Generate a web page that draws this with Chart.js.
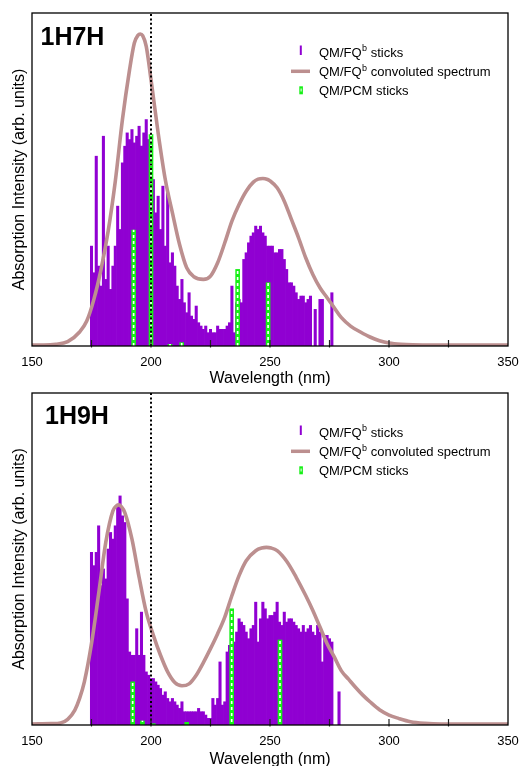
<!DOCTYPE html>
<html>
<head>
<meta charset="utf-8">
<script src="https://cdn.jsdelivr.net/npm/chart.js@4.4.0/dist/chart.umd.min.js"></script>
<style>
  html, body { margin: 0; padding: 0; background: #fff; }
  canvas { display: block; }
</style>
</head>
<body>
<canvas id="c1" width="520" height="388"></canvas>
<canvas id="c2" width="520" height="378"></canvas>
<script>
// ---- 1H7H ----
// QM/FQ sticks (nm / intensity, % of axis height)
const stickNm7 = [175, 176, 177, 178, 179, 180, 181, 182, 183, 184,
  185, 186, 187, 188, 189, 190, 191, 192, 193, 194,
  195, 196, 197, 198, 199, 200, 201, 202, 203, 204,
  205, 206, 207, 208, 209, 210, 211, 212, 213, 214,
  215, 216, 217, 218, 219, 220, 221, 222, 223, 224,
  225, 226, 227, 228, 229, 230, 231, 232, 233, 234,
  235, 236, 237, 238, 239, 240, 241, 242, 243, 244,
  245, 246, 247, 248, 249, 250, 251, 252, 253, 254,
  255, 256, 257, 258, 259, 260, 261, 262, 263, 264,
  265, 266, 267, 269, 271, 272, 276]
const stickInt7 = [30, 22, 57, 24, 18, 63, 20, 30, 17, 24,
  30, 42, 35, 55, 60, 64, 62, 65, 61, 63,
  66, 60, 64, 68, 62, 63, 50, 40, 45, 35,
  48, 30, 46, 25, 28, 24, 18, 14, 20, 13,
  10, 16, 9, 8, 12, 7, 6, 5, 6, 4,
  5, 4, 4, 6, 5, 5, 5, 6, 7, 18,
  4, 13, 14, 13, 26, 28, 31, 33, 34, 36,
  35, 36, 34, 33, 30, 30, 30, 28, 28, 29,
  29, 26, 23, 19, 19, 18, 16, 14, 15, 15,
  13, 14, 15, 11, 14, 14, 16]
// QM/PCM sticks
const pcmNm7 = [192.7, 200, 208, 212.9, 236.4, 249.2]
const pcmInt7 = [34.8, 63.5, 0.5, 1, 23, 19]
// convoluted spectrum
const specNm7 = [150, 155, 160, 165, 170, 173, 176, 179, 182, 185,
  188, 191, 193, 194.5, 195.5, 196.5, 198, 200, 203, 206, 209, 212,
  215, 218, 222, 225, 228, 231, 234, 237, 240, 243,
  245, 247, 249, 250, 253, 256, 259, 262, 265, 268, 271, 274,
  277, 280, 284, 288, 292, 296, 300, 305, 310, 320,
  335, 350]
const specInt7 = [0.3, 0.3, 0.5, 1.3, 4.2, 7.5, 14, 23, 34.5, 49.5,
  68, 83, 91, 93.3, 93.7, 93.2, 90, 80, 64, 50, 40, 30.5,
  23.5, 20.8, 20, 21, 25, 31, 37.5, 42.5, 46.5, 49.2,
  50.1, 50.3, 50, 49.6, 47.5, 43.5, 38, 32.5, 26.5, 21.5, 17.5, 14.5,
  11.5, 8.5, 5.9, 4.2, 2.7, 1.6, 0.9, 0.5, 0.35, 0.3,
  0.3, 0.3]

// ---- 1H9H ----
const stickNm9 = [175, 176, 177, 178, 179, 180, 181, 182, 183, 184,
  185, 186, 187, 188, 189, 190, 191, 192, 193, 194,
  195, 196, 197, 198, 199, 200, 201, 202, 203, 204,
  205, 206, 207, 208, 209, 210, 211, 212, 213, 214,
  215, 216, 217, 218, 219, 220, 221, 222, 223, 224,
  225, 226, 227, 228, 229, 230, 231, 232, 233, 234,
  235, 236, 237, 238, 239, 240, 241, 242, 243, 244,
  245, 246, 247, 248, 249, 250, 251, 252, 253, 254,
  255, 256, 257, 258, 259, 260, 261, 262, 263, 264,
  265, 266, 267, 268, 269, 270, 271, 272, 273, 274,
  275, 276, 279]
const stickInt9 = [52, 48, 52, 60, 42, 47, 44, 53, 58, 56,
  60, 66, 69, 63, 61, 38, 22, 21, 21, 29,
  21, 34, 21, 16, 15, 14, 14, 13, 12, 11,
  9, 10, 8, 7, 8, 7, 6, 5, 7, 4,
  4, 4, 4, 4, 4, 5, 4, 4, 3, 2,
  2, 8, 6, 8, 19, 6, 7, 22, 24, 26,
  25, 28, 32, 31, 30, 28, 26, 29, 30, 37,
  25, 32, 37, 35, 32, 33, 33, 34, 37, 31,
  30, 34, 31, 32, 32, 31, 30, 29, 28, 30,
  28, 29, 30, 28, 27, 30, 28, 19, 27, 27,
  26, 25, 10]
const pcmNm9 = [192.3, 196.4, 201, 215, 233.9, 254.2]
const pcmInt9 = [13, 1.2, 0.4, 0.8, 35, 25.6]
const specNm9 = [150, 158, 162, 165, 168, 170, 172, 175, 178, 181,
  184, 185.5, 186.5, 187.5, 189, 192, 195, 198, 201, 204, 207, 210,
  213, 216, 219, 222, 225, 228, 231, 234, 237, 240,
  244, 246.5, 248.5, 250.5, 253, 257, 261, 265, 268, 271, 274, 277,
  280, 283, 286, 289, 292, 296, 300, 304, 309, 315,
  322, 335, 350]
const specInt9 = [0.3, 0.4, 0.6, 1.7, 4.5, 8, 13, 24.5, 39.5, 55,
  64.5, 66, 66.3, 65.8, 64, 56, 44.5, 34, 27, 21, 16, 12.8,
  11.8, 12.4, 15, 18.8, 23, 27.5, 32.5, 39, 45, 49.5,
  52.5, 53.3, 53.5, 53.3, 52.5, 49.3, 44.5, 39, 34.5, 29.5, 24.5, 20.5,
  16.3, 13.8, 11.3, 9, 7, 4.6, 3, 2, 1, 0.5,
  0.3, 0.3, 0.3]

const xMin = 150
const xMax = 350
const tickMarks = [175, 200, 225, 250, 275, 300, 325]
const refLine = 200
const legendMain = ['QM/FQ', 'QM/FQ', 'QM/PCM sticks']
const legendSup = ['b', 'b', '']
const legendTail = [' sticks', ' convoluted spectrum', '']

const FONT = '"Liberation Sans", Arial, Helvetica, sans-serif'
const PURPLE = '#9000d2'
const ROSE = '#bc8f8f'
const GREEN = '#16f016'

Chart.defaults.font.family = FONT
Chart.defaults.color = '#000'

function pts(xs, ys) {
  return xs.map((v, i) => ({ x: v, y: ys[i] }))
}

// white dashes for the hatched QM/PCM bars
function dashPattern() {
  const c = document.createElement('canvas')
  c.width = 1
  c.height = 6
  const g = c.getContext('2d')
  g.fillStyle = '#fff'
  g.fillRect(0, 1, 1, 3)
  return g.createPattern(c, 'repeat')
}

// frame, inner ticks, panel name and legend
const panelDecor = {
  id: 'panelDecor',
  afterDraw(chart, args, o) {
    const { ctx, chartArea: a } = chart
    const x = chart.scales.x
    ctx.save()
    ctx.strokeStyle = '#222'
    ctx.lineWidth = 1.2
    for (const t of tickMarks) {
      const px = x.getPixelForValue(t)
      ctx.beginPath()
      ctx.moveTo(px, a.bottom + 1.5)
      ctx.lineTo(px, a.bottom - 6)
      ctx.stroke()
    }
    ctx.strokeStyle = '#000'
    ctx.lineWidth = 1.3
    ctx.strokeRect(a.left, a.top, a.right - a.left, a.bottom - a.top)

    ctx.fillStyle = '#000'
    ctx.textAlign = 'left'
    ctx.textBaseline = 'alphabetic'
    ctx.font = 'bold 25px ' + FONT
    ctx.fillText(o.title, o.titleX, a.top + o.titleDy)

    // legend
    const tx = 319
    const rows = [43.5, 63, 82]
    ctx.fillStyle = PURPLE
    ctx.fillRect(299.8, a.top + 32.5, 2, 9.5)
    ctx.strokeStyle = ROSE
    ctx.lineWidth = 3.5
    ctx.beginPath()
    ctx.moveTo(291, a.top + 58.3)
    ctx.lineTo(310, a.top + 58.3)
    ctx.stroke()
    ctx.fillStyle = GREEN
    ctx.fillRect(299.3, a.top + 73.3, 3.6, 8)
    ctx.fillStyle = '#fff'
    ctx.fillRect(300.6, a.top + 75.5, 1, 3)

    ctx.fillStyle = '#000'
    for (let i = 0; i < rows.length; i++) {
      const y = a.top + rows[i]
      ctx.font = '13px ' + FONT
      ctx.fillText(legendMain[i], tx, y)
      let w = tx + ctx.measureText(legendMain[i]).width
      if (legendSup[i]) {
        ctx.font = '9px ' + FONT
        ctx.fillText(legendSup[i], w + 0.5, y - 5.5)
        w += ctx.measureText(legendSup[i]).width + 0.5
      }
      ctx.font = '13px ' + FONT
      ctx.fillText(legendTail[i], w, y)
    }
    ctx.restore()
  }
}

function drawPanel(id, d) {
  const dash = dashPattern()
  const config = {
    type: 'bar',
    data: {
      datasets: [
        {
          type: 'line',
          data: [{ x: refLine, y: 0 }, { x: refLine, y: 100 }],
          borderColor: '#000',
          borderWidth: 2,
          borderDash: [2, 2.4],
          pointRadius: 0,
          order: 0
        },
        {
          type: 'line',
          data: pts(d.specNm, d.specInt),
          borderColor: ROSE,
          borderWidth: 3.6,
          pointRadius: 0,
          cubicInterpolationMode: 'monotone',
          order: 1
        },
        {
          data: pts(d.pcmNm, d.pcmInt),
          backgroundColor: dash,
          barThickness: 1,
          grouped: false,
          order: 2
        },
        {
          data: pts(d.pcmNm, d.pcmInt),
          backgroundColor: GREEN,
          barThickness: 4,
          grouped: false,
          order: 3
        },
        {
          data: pts(d.stickNm, d.stickInt),
          backgroundColor: PURPLE,
          barThickness: 2.4,
          grouped: false,
          order: 4
        }
      ]
    },
    options: {
      responsive: false,
      animation: false,
      layout: { padding: { top: d.padTop, right: 12, left: 0, bottom: 0 } },
      scales: {
        x: {
          type: 'linear',
          min: xMin,
          max: xMax,
          offset: false,
          grid: { display: false, drawTicks: false },
          border: { display: false },
          ticks: { stepSize: 50, font: { size: 13 }, padding: 9, maxRotation: 0, autoSkip: false },
          title: { display: true, text: 'Wavelength (nm)', font: { size: 16 }, padding: { top: 0, bottom: d.titlePad } },
          afterFit: s => {
            s.height = d.xHeight
            s.paddingLeft = 0
            s.paddingRight = 0
          }
        },
        y: {
          min: 0,
          max: 100,
          grid: { display: false },
          border: { display: false },
          ticks: { display: false },
          title: {
            display: true,
            text: 'Absorption Intensity (arb. units)',
            font: { size: 16 },
            padding: { top: 10, bottom: 0 }
          },
          afterFit: s => { s.width = 32 }
        }
      },
      plugins: {
        legend: { display: false },
        tooltip: { enabled: false },
        panelDecor: { title: d.title, titleX: d.titleX, titleDy: d.titleDy }
      }
    },
    plugins: [panelDecor]
  }
  return new Chart(document.getElementById(id).getContext('2d'), config)
}

drawPanel('c1', {
  stickNm: stickNm7, stickInt: stickInt7, pcmNm: pcmNm7, pcmInt: pcmInt7,
  specNm: specNm7, specInt: specInt7,
  title: '1H7H', titleX: 40.5, titleDy: 32, padTop: 13, xHeight: 42, titlePad: 0
})
drawPanel('c2', {
  stickNm: stickNm9, stickInt: stickInt9, pcmNm: pcmNm9, pcmInt: pcmInt9,
  specNm: specNm9, specInt: specInt9,
  title: '1H9H', titleX: 45, titleDy: 30.5, padTop: 5, xHeight: 41, titlePad: -3
})
</script>
</body>
</html>
